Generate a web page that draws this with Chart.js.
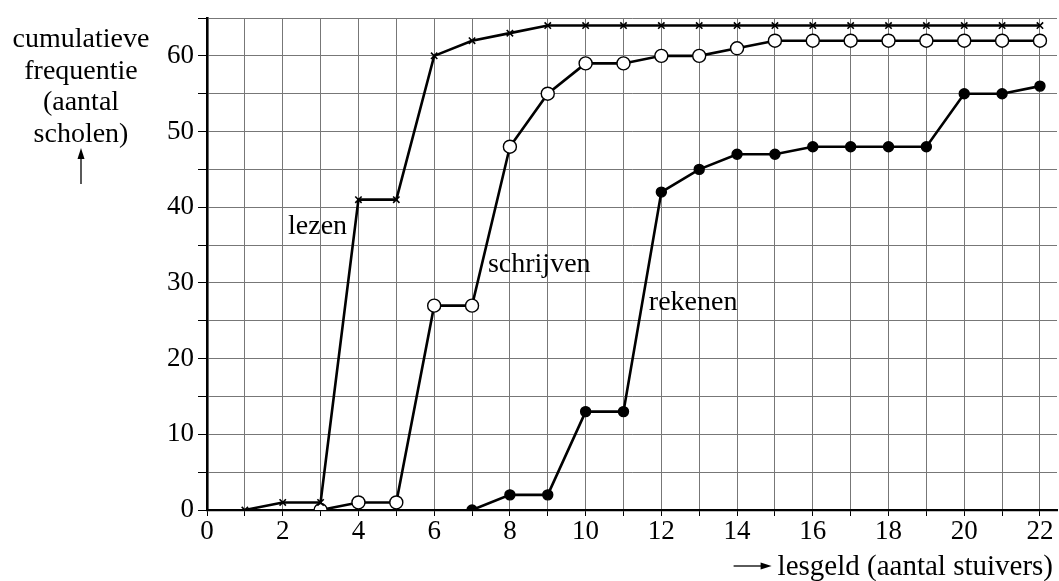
<!DOCTYPE html>
<html>
<head>
<meta charset="utf-8">
<script src="https://cdn.jsdelivr.net/npm/chart.js@4"></script>
<style>
  html, body { margin: 0; padding: 0; background: #fff; }
  #wrap { width: 1059px; height: 581px; }
</style>
</head>
<body>
<div id="wrap"><canvas id="c" width="1059" height="581"></canvas></div>
<script>
// data
const lezenX = [1, 2, 3, 4, 5, 6, 7, 8, 9, 10, 11, 12, 13, 14, 15, 16, 17, 18, 19, 20, 21, 22];
const lezenY = [0, 1, 1, 41, 41, 60, 62, 63, 64, 64, 64, 64, 64, 64, 64, 64, 64, 64, 64, 64, 64, 64];
const schrijvenX = [3, 4, 5, 6, 7, 8, 9, 10, 11, 12, 13, 14, 15, 16, 17, 18, 19, 20, 21, 22];
const schrijvenY = [0, 1, 1, 27, 27, 48, 55, 59, 59, 60, 60, 61, 62, 62, 62, 62, 62, 62, 62, 62];
const rekenenX = [7, 8, 9, 10, 11, 12, 13, 14, 15, 16, 17, 18, 19, 20, 21, 22];
const rekenenY = [0, 2, 2, 13, 13, 42, 45, 47, 47, 48, 48, 48, 48, 55, 55, 56];
const xTickValues = [0, 1, 2, 3, 4, 5, 6, 7, 8, 9, 10, 11, 12, 13, 14, 15, 16, 17, 18, 19, 20, 21, 22];
const yTitle = ['cumulatieve', 'frequentie', '(aantal', 'scholen)'];
const xTitle = 'lesgeld (aantal stuivers)';
// curve labels: [text, x, y] in data units (left end, baseline)
const curveLabels = [['lezen', 2.14, 36.4], ['schrijven', 7.42, 31.5], ['rekenen', 11.67, 26.4]];

const FONT = '"Liberation Serif", "Times New Roman", serif';
const toPts = (xs, ys) => xs.map((x, i) => ({ x: x, y: ys[i] }));

const line = (label, xs, ys, style, fill, r) => ({
  label: label,
  data: toPts(xs, ys),
  borderColor: '#000',
  borderWidth: 2.6,
  pointStyle: style,
  pointRadius: r,
  pointBorderWidth: style === 'crossRot' ? 1.6 : 1.4,
  pointBackgroundColor: fill,
  pointBorderColor: '#000',
  tension: 0
});

const textPlugin = {
  id: 'texts',
  afterDraw(chart) {
    const ctx = chart.ctx;
    const xs = chart.scales.x, ys = chart.scales.y;
    ctx.save();
    ctx.fillStyle = '#000';
    ctx.strokeStyle = '#000';
    ctx.font = '28px ' + FONT;
    ctx.textAlign = 'center';
    ctx.textBaseline = 'alphabetic';
    yTitle.forEach((t, i) => ctx.fillText(t, 81, 47 + i * 31.5));
    // up arrow
    ctx.lineWidth = 1.3;
    ctx.beginPath(); ctx.moveTo(81, 184); ctx.lineTo(81, 155); ctx.stroke();
    ctx.beginPath(); ctx.moveTo(81, 148); ctx.lineTo(77.5, 159); ctx.lineTo(84.5, 159); ctx.closePath(); ctx.fill();

    // x title with right arrow
    ctx.font = '29px ' + FONT;
    ctx.textAlign = 'right';
    ctx.fillText(xTitle, 1053, 575);
    const w = ctx.measureText(xTitle).width;
    const ax = 1053 - w - 6;
    const ay = 566;
    ctx.beginPath(); ctx.moveTo(ax - 38, ay); ctx.lineTo(ax - 8, ay); ctx.stroke();
    ctx.beginPath(); ctx.moveTo(ax, ay); ctx.lineTo(ax - 11, ay - 3.5); ctx.lineTo(ax - 11, ay + 3.5); ctx.closePath(); ctx.fill();

    // curve labels
    ctx.font = '28px ' + FONT;
    ctx.textAlign = 'left';
    curveLabels.forEach(([t, x, y]) => {
      ctx.fillText(t, xs.getPixelForValue(x), ys.getPixelForValue(y));
    });
    ctx.restore();
  }
};

new Chart(document.getElementById('c'), {
  type: 'line',
  data: {
    datasets: [
      line('lezen', lezenX, lezenY, 'crossRot', '#000', 4.5),
      line('schrijven', schrijvenX, schrijvenY, 'circle', '#fff', 6.5),
      line('rekenen', rekenenX, rekenenY, 'circle', '#000', 5)
    ]
  },
  options: {
    responsive: false,
    animation: false,
    layout: { autoPadding: false, padding: { top: 18, right: 2, bottom: 0, left: 0 } },
    plugins: { legend: { display: false }, tooltip: { enabled: false } },
    scales: {
      x: {
        type: 'linear',
        min: 0,
        max: 22.45,
        afterBuildTicks: s => { s.ticks = xTickValues.map(v => ({ value: v })); },
        afterFit: s => { s.height = 71; s.paddingRight = 0; s.paddingLeft = 0; },
        ticks: {
          stepSize: 1,
          autoSkip: false,
          maxRotation: 0,
          color: '#000',
          font: { family: FONT, size: 27 },
          padding: 0,
          callback: v => (v % 2 === 0 ? String(v) : '')
        },
        grid: { color: '#777', lineWidth: 1, tickLength: 6, tickColor: '#000' },
        border: { color: '#000', width: 2.2 }
      },
      y: {
        min: 0,
        max: 65,
        afterFit: s => { s.width = 207; s.paddingTop = 0; s.paddingBottom = 0; },
        ticks: {
          stepSize: 5,
          autoSkip: false,
          color: '#000',
          font: { family: FONT, size: 27 },
          padding: 4,
          callback: v => (v % 10 === 0 ? String(v) : '')
        },
        grid: { color: '#777', lineWidth: 1, tickLength: 9, tickColor: '#000' },
        border: { color: '#000', width: 2.6 }
      }
    }
  },
  plugins: [textPlugin]
});
</script>
</body>
</html>
